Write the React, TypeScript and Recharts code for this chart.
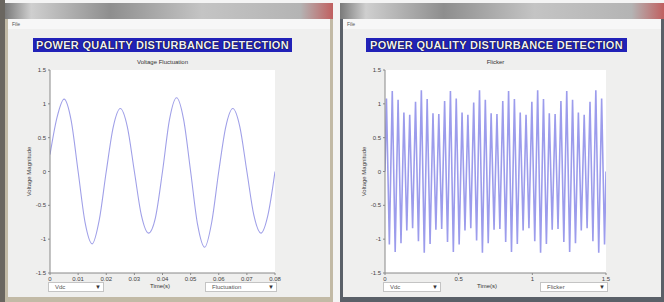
import React from 'react';
import { LineChart, Line, XAxis, YAxis, CartesianGrid } from 'recharts';

// Voltage fluctuation panel (left window)
const fluctTime = [
  0, 0.0025, 0.005, 0.0075, 0.01, 0.0125, 0.015, 0.0175, 0.02, 0.0225, 0.025,
  0.0275, 0.03, 0.0325, 0.035, 0.0375, 0.04, 0.0425, 0.045, 0.0475, 0.05,
  0.0525, 0.055, 0.0575, 0.06, 0.0625, 0.065, 0.0675, 0.07, 0.0725, 0.075,
  0.0775, 0.08,
];
const fluctVolt = [
  0.25, 0.8, 1.07, 0.76, 0.0, -0.76, -1.07, -0.72, 0.0, 0.66, 0.93,
  0.66, 0.0, -0.65, -0.91, -0.68, 0.0, 0.77, 1.09, 0.77, 0.0,
  -0.79, -1.12, -0.75, 0.0, 0.66, 0.93, 0.66, 0.0, -0.65, -0.91,
  -0.64, 0.0,
];
const fluctTicks = [0, 0.01, 0.02, 0.03, 0.04, 0.05, 0.06, 0.07, 0.08];

// Flicker panel (right window): peak amplitude of each cycle
const flickerAmp = [
  1.08, 1.19, 1.06, 0.87, 0.84, 1.03, 1.2, 1.07, 0.86, 0.85,
  1.04, 1.19, 1.08, 0.87, 0.84, 1.02, 1.2, 1.06, 0.86, 0.85,
  1.04, 1.19, 1.07, 0.87, 0.84, 1.03, 1.2, 1.07, 0.86, 0.85,
  1.04, 1.19, 1.06, 0.87, 0.84, 1.03, 1.2, 1.08,
];
const flickerSpan = 1.5;
const flickerTicks = [0, 0.5, 1, 1.5];

const voltTicks = [-1.5, -1, -0.5, 0, 0.5, 1, 1.5];

const fluctData = fluctTime.map((t, i) => ({ t, v: fluctVolt[i] }));

const flickerData = (() => {
  const step = flickerSpan / flickerAmp.length;
  const rows = [{ t: 0, v: 0 }];
  flickerAmp.forEach((a, i) => {
    rows.push({ t: (i + 0.25) * step, v: a });
    rows.push({ t: (i + 0.75) * step, v: -a });
  });
  rows.push({ t: flickerSpan, v: 0 });
  return rows;
})();

const FONT = 'Liberation Sans, Arial, sans-serif';
const tickStyle = { fontSize: 6, fill: '#444', fontFamily: FONT };

const Dropdown = ({ left, width, text }: { left: number; width: number; text: string }) => (
  <div
    style={{
      position: 'absolute', left, top: 282, width, height: 10, background: '#fff',
      border: '1px solid #c4c4c4', boxSizing: 'border-box', fontSize: 6, lineHeight: '8px',
      paddingLeft: 6, color: '#555', fontFamily: FONT,
    }}
  >
    {text}
    <span style={{ position: 'absolute', right: 2, top: 0, fontSize: 6, color: '#333' }}>▼</span>
  </div>
);

const Plot = (props: any) => {
  const { data, ticks, domain, left, width, lineType, stroke, strokeWidth } = props;
  return (
    <div style={{ position: 'absolute', left, top: 56 }}>
      <LineChart width={width} height={229} data={data} margin={{ top: 14, right: 8, bottom: 0, left: 0 }}>
        <CartesianGrid fill="#ffffff" horizontal={false} vertical={false} />
        <XAxis
          dataKey="t" type="number" domain={domain} ticks={ticks} height={12}
          interval={0} tick={tickStyle} tickSize={2} stroke="#888" allowDataOverflow
        />
        <XAxis xAxisId="top" orientation="top" dataKey="t" type="number" domain={domain}
          tick={false} tickLine={false} height={0} stroke="#888" />
        <YAxis
          type="number" domain={[-1.5, 1.5]} ticks={voltTicks} width={40} interval={0}
          tick={tickStyle} tickSize={2} stroke="#888"
          label={{ value: 'Voltage Magnitude', angle: -90, position: 'insideLeft', offset: 19,
            style: { fontSize: 6, fill: '#444', fontFamily: FONT, textAnchor: 'middle' } }}
        />
        <YAxis yAxisId="right" orientation="right" type="number" domain={[-1.5, 1.5]}
          tick={false} tickLine={false} width={0} stroke="#888" />
        <Line
          dataKey="v" type={lineType} stroke={stroke} strokeWidth={strokeWidth}
          dot={false} isAnimationActive={false}
        />
      </LineChart>
    </div>
  );
};

const TitleBox = ({ left, width }: { left: number; width: number }) => (
  <div
    style={{
      position: 'absolute', left, top: 38, width, height: 14, background: '#2222b8',
      color: '#eeeefa', fontFamily: FONT, fontWeight: 'bold', fontSize: 11, lineHeight: '14px',
      textAlign: 'center', letterSpacing: 0.3, whiteSpace: 'nowrap',
      textShadow: '0 0 1px #000, 0 0 1px #000',
    }}
  >
    POWER QUALITY DISTURBANCE DETECTION
  </div>
);

const Window = ({ left, width, frame, children }: any) => (
  <div style={{ position: 'absolute', left, top: 3, width, height: 299, background: frame }}>
    <div
      style={{
        position: 'absolute', left: 0, top: 0, width: '100%', height: 16,
        background: 'linear-gradient(to right, #7a7a7a 0%, #cfcfcf 8%, #8e8e8e 32%, #c4c4c4 60%, #b4b4b4 90%, #c06060 100%)',
      }}
    />
    <div style={{ position: 'absolute', left: 3, top: 16, right: 3, bottom: 5, background: '#efefee' }}>
      <div style={{ position: 'absolute', left: 0, top: 0, right: 0, height: 10, background: '#f7f7f7',
        fontSize: 5, color: '#555', paddingLeft: 4, fontFamily: FONT, lineHeight: '10px' }}>File</div>
    </div>
    {children}
  </div>
);

export default function App() {
  return (
    <div style={{ position: 'fixed', left: 0, top: 0, width: 664, height: 302, background: '#f4f4f4', overflow: 'hidden' }}>
      <div style={{ position: 'absolute', left: 0, top: 0, width: 5, height: 302, background: '#6a6660' }} />
      <Window left={5} width={328} frame="#c2baa6" />
      <Window left={340} width={324} frame="#5a6068" />

      <TitleBox left={33} width={259} />
      <TitleBox left={366} width={261} />

      <div style={{ position: 'absolute', left: 50, width: 225, top: 59, textAlign: 'center', fontSize: 6, color: '#333', fontFamily: FONT }}>
        Voltage Fluctuation
      </div>
      <div style={{ position: 'absolute', left: 385, width: 221, top: 59, textAlign: 'center', fontSize: 6, color: '#333', fontFamily: FONT }}>
        Flicker
      </div>

      <Plot data={fluctData} ticks={fluctTicks} domain={[0, 0.08]} left={10} width={273}
        lineType="monotone" stroke="#a0a0e8" strokeWidth={1.1} />
      <Plot data={flickerData} ticks={flickerTicks} domain={[0, 1.5]} left={345} width={269}
        lineType="linear" stroke="#9c9cec" strokeWidth={1.6} />

      <Dropdown left={48} width={56} text="Vdc" />
      <div style={{ position: 'absolute', left: 140, width: 40, top: 283, textAlign: 'center', fontSize: 6, color: '#333', fontFamily: FONT }}>Time(s)</div>
      <Dropdown left={205} width={72} text="Fluctuation" />

      <Dropdown left={383} width={58} text="Vdc" />
      <div style={{ position: 'absolute', left: 467, width: 40, top: 283, textAlign: 'center', fontSize: 6, color: '#333', fontFamily: FONT }}>Time(s)</div>
      <Dropdown left={540} width={68} text="Flicker" />
    </div>
  );
}
